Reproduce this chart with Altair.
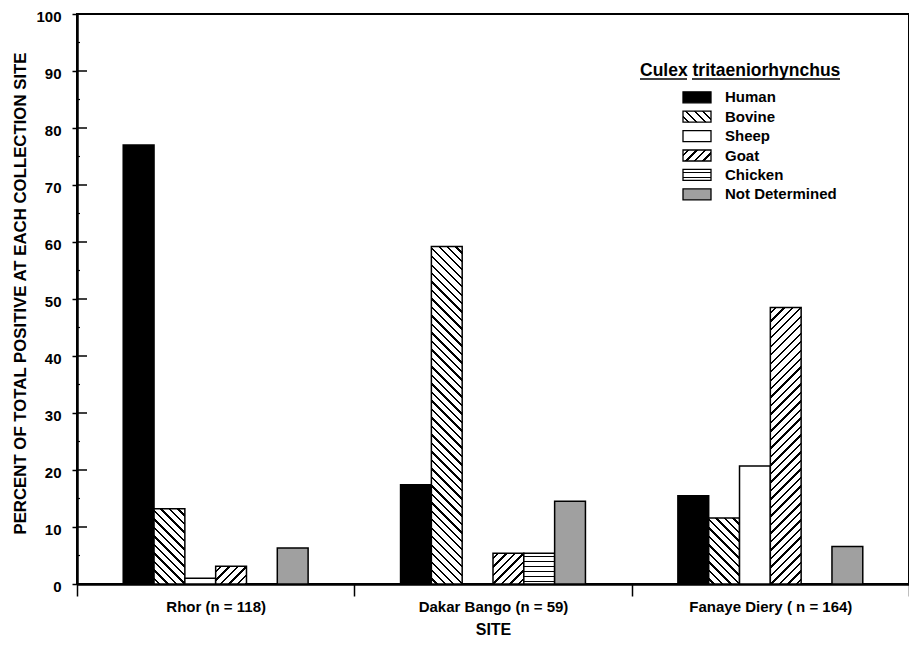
import math
import altair as alt

# ---------------- data ----------------
sites = ["Rhor (n = 118)", "Dakar Bango (n = 59)", "Fanaye Diery ( n = 164)"]
hosts = ["Human", "Bovine", "Sheep", "Goat", "Chicken", "Not Determined"]
rhor = [77.0, 13.2, 1.0, 3.1, 0.0, 6.3]
dakar_bango = [17.4, 59.2, 0.0, 5.4, 5.4, 14.5]
fanaye_diery = [15.5, 11.6, 20.7, 48.5, 0.0, 6.6]
y_ticks = list(range(0, 101, 10))
y_minor = list(range(5, 100, 10))
legend_title = "Culex tritaeniorhynchus"

# ---------------- layout ----------------
W, H = 832, 570
PAD = {"left": 69, "top": 6, "right": 0, "bottom": 54}
BAR_W = W / 3 / 9.0
PX_PER_UNIT = H / 100.0
FONT = "Liberation Sans"
# empty slots either side of each group so that the six bars fill the middle of each site band
offset_domain = ["_l"] + hosts + ["_r"]


def stripe_stops(L, period, lw):
    stops = [{"offset": 0, "color": "white"}]
    k = 0
    while True:
        a = (k * period + period / 2) / L
        if a >= 1:
            break
        b = min((k * period + period / 2 + lw) / L, 1)
        stops += [{"offset": a, "color": "white"}, {"offset": a, "color": "black"},
                  {"offset": b, "color": "black"}, {"offset": b, "color": "white"}]
        k += 1
    stops.append({"offset": 1, "color": "white"})
    return stops


def pattern(host, w, h):
    if host == "Human":
        return "black"
    if host == "Sheep" or h <= 0:
        return "white"
    if host == "Not Determined":
        return "#a0a0a0"
    if host == "Chicken":
        return {"gradient": "linear", "x1": 0, "y1": 0, "x2": 0, "y2": 1,
                "stops": stripe_stops(h, 5.0, 1.4)}
    s = (w + h) / (w * w + h * h)
    L = (w + h) / math.sqrt(2)
    stops = stripe_stops(L, 6.0, 1.7)
    if host == "Goat":  # "/" hatching
        return {"gradient": "linear", "x1": 0, "y1": 0, "x2": s * w, "y2": s * h, "stops": stops}
    # Bovine "\" hatching
    return {"gradient": "linear", "x1": 0, "y1": 1, "x2": s * w, "y2": 1 - s * h, "stops": stops}


bar_records = []
for site, vals in zip(sites, [rhor, dakar_bango, fanaye_diery]):
    for host, v in zip(hosts, vals):
        bar_records.append({"site": site, "host": host, "value": v,
                            "fill": pattern(host, BAR_W, v * PX_PER_UNIT)})

SW_W, SW_H = 28, 11
legend_records = [{"host": h, "i": i, "fill": pattern(h, SW_W, SW_H)} for i, h in enumerate(hosts)]

# ---------------- chart ----------------
bars = alt.Chart(alt.Data(values=bar_records)).mark_bar(
    stroke="black", strokeWidth=1.5
).encode(
    x=alt.X("site:N", sort=sites,
            scale=alt.Scale(paddingInner=0, paddingOuter=0),
            axis=alt.Axis(title="SITE", tickBand="extent", tickSize=12, tickWidth=1.5,
                          labelAngle=0, labelFontSize=15, labelPadding=3,
                          titleFontSize=16, titlePadding=7)),
    xOffset=alt.XOffset("host:N",
                        scale=alt.Scale(domain=offset_domain, paddingInner=0, paddingOuter=0.5)),
    y=alt.Y("value:Q", scale=alt.Scale(domain=[0, 100], nice=False),
            axis=alt.Axis(values=y_ticks, title="PERCENT OF TOTAL POSITIVE AT EACH COLLECTION SITE",
                          tickSize=5, tickWidth=1.5, labelFontSize=15, labelPadding=11,
                          labelOffset=2,
                          titleFontSize=16.8, titlePadding=6, titleY=279)),
    fill=alt.Fill("fill:N", scale=None, legend=None),
)

inner_major = alt.Chart(alt.Data(values=[{"v": v} for v in y_ticks])).mark_rule(
    color="black", strokeWidth=1.5
).encode(y="v:Q", x=alt.value(0), x2=alt.value(10))

inner_minor = alt.Chart(alt.Data(values=[{"v": v} for v in y_minor])).mark_rule(
    color="black", strokeWidth=1.2
).encode(y="v:Q", x=alt.value(0), x2=alt.value(3))

leg_base = alt.Chart(alt.Data(values=legend_records)).transform_calculate(
    yc="83.3 + datum.i * 19.4",
    yt="83.3 + datum.i * 19.4 - 5.5",
    yb="83.3 + datum.i * 19.4 + 5.5",
)

leg_swatch = leg_base.mark_rect(stroke="black", strokeWidth=1.3).encode(
    x=alt.value(606), x2=alt.value(634),
    y=alt.Y("yt:Q", scale=None, axis=None), y2="yb:Q",
    fill=alt.Fill("fill:N", scale=None, legend=None),
)

leg_text = leg_base.mark_text(
    align="left", baseline="middle", font=FONT, fontWeight="bold", fontSize=15, color="black"
).encode(x=alt.value(648), y=alt.Y("yc:Q", scale=None, axis=None), text="host:N")

leg_title = alt.Chart(alt.Data(values=[{"t": legend_title}])).mark_text(
    align="left", baseline="alphabetic", font=FONT, fontWeight="bold", fontSize=17.5, color="black"
).encode(x=alt.value(563), y=alt.value(62), text="t:N")

underline1 = alt.Chart(alt.Data(values=[{"k": 1}])).mark_rule(color="black", strokeWidth=1.5).encode(
    x=alt.value(563), x2=alt.value(610), y=alt.value(65))
underline2 = alt.Chart(alt.Data(values=[{"k": 1}])).mark_rule(color="black", strokeWidth=1.5).encode(
    x=alt.value(615), x2=alt.value(763), y=alt.value(65))

chart = alt.layer(
    bars, inner_major, inner_minor, leg_swatch, leg_text, leg_title, underline1, underline2
).properties(
    width=W, height=H, padding=PAD, autosize=alt.AutoSizeParams(type="none"),
    background="white",
).configure_view(
    stroke="black", strokeWidth=2
).configure_axis(
    domainColor="black", domainWidth=2.5, tickColor="black", labelColor="black",
    titleColor="black", labelFont=FONT, titleFont=FONT, labelFontWeight="bold",
    titleFontWeight="bold", grid=False,
)

chart.save("out.html", embed_options={"renderer": "svg", "actions": False})
